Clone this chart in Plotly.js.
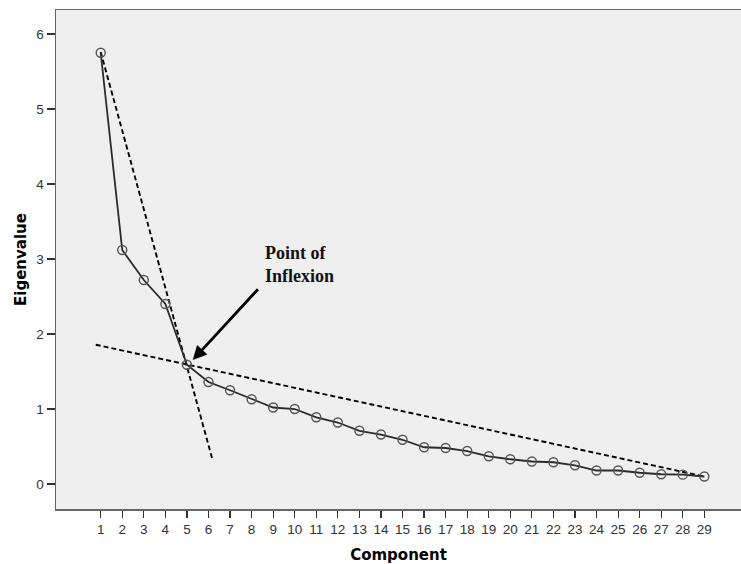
<!DOCTYPE html>
<html>
<head>
<meta charset="utf-8">
<script src="https://cdn.plot.ly/plotly-3.0.1.min.js"></script>
<style>html,body{margin:0;padding:0;background:#fff;}#chart{width:741px;height:564px;}</style>
</head>
<body>
<div id="chart"></div>
<script>
// Scree plot data
const components = [1,2,3,4,5,6,7,8,9,10,11,12,13,14,15,16,17,18,19,20,21,22,23,24,25,26,27,28,29];
const eigenvalues = [5.75,3.12,2.72,2.40,1.59,1.36,1.25,1.13,1.02,1.00,0.89,0.82,0.71,0.66,0.59,0.49,0.48,0.44,0.37,0.33,0.30,0.29,0.25,0.18,0.18,0.15,0.13,0.125,0.10];
// Dashed reference lines (start and end points)
const steepLineX = [1, 6.18];
const steepLineY = [5.76, 0.33];
const shallowLineX = [0.77, 29];
const shallowLineY = [1.857, 0.10];
const tickLabels = components.map(String);
const yTicks = [0,1,2,3,4,5,6];

const traces = [
  {x: steepLineX, y: steepLineY, mode: 'lines', line: {color: '#000', width: 1.9, dash: '5px,3px'}, hoverinfo: 'skip'},
  {x: shallowLineX, y: shallowLineY, mode: 'lines', line: {color: '#000', width: 1.9, dash: '5px,3px'}, hoverinfo: 'skip'},
  {x: components, y: eigenvalues, mode: 'lines+markers',
   line: {color: '#2a2a2a', width: 1.8},
   marker: {symbol: 'circle-open', size: 9, color: '#555', line: {width: 1.4, color: '#555'}}}
];

const layout = {
  width: 741, height: 564,
  margin: {l: 56, r: 0, t: 10, b: 55},
  paper_bgcolor: '#fff',
  plot_bgcolor: '#efefef',
  showlegend: false,
  xaxis: {
    range: [-1.073, 30.70],
    tickvals: components, ticktext: tickLabels,
    ticks: 'outside', ticklen: 7, tickcolor: '#333', tickwidth: 1.2,
    showgrid: false, zeroline: false,
    showline: true, linecolor: '#666', linewidth: 1.5, mirror: true,
    tickfont: {family: 'Liberation Sans, Arial, sans-serif', size: 13.5, color: '#333'},
    title: {text: 'Component', font: {family: 'DejaVu Sans, sans-serif', size: 15, color: '#000', weight: 'bold'}, standoff: 16}
  },
  yaxis: {
    range: [-0.333, 6.32],
    tickvals: yTicks, ticktext: yTicks.map(String),
    ticks: 'outside', ticklen: 8, tickcolor: '#333', tickwidth: 1.2,
    showgrid: false, zeroline: false,
    showline: true, linecolor: '#666', linewidth: 1.5, mirror: false,
    tickfont: {family: 'Liberation Sans, Arial, sans-serif', size: 13.5, color: '#333'},
    title: {text: 'Eigenvalue', font: {family: 'DejaVu Sans, sans-serif', size: 15, color: '#000', weight: 'bold'}, standoff: 6}
  },
  annotations: [
    {x: 8.55, y: 2.93, xref: 'x', yref: 'y', xanchor: 'left', yanchor: 'middle', align: 'left',
     text: '<b>Point of<br>Inflexion</b>', showarrow: false,
     font: {family: 'Liberation Serif, Times New Roman, serif', size: 18, color: '#111'}},
    {x: 5.27, y: 1.653, xref: 'x', yref: 'y', text: '', showarrow: true,
     ax: 66.6, ay: -72.3, arrowhead: 2, arrowsize: 1.0, arrowwidth: 2.8, arrowcolor: '#000', standoff: 0}
  ]
};

Plotly.newPlot('chart', traces, layout, {displayModeBar: false, staticPlot: true});
</script>
</body>
</html>
